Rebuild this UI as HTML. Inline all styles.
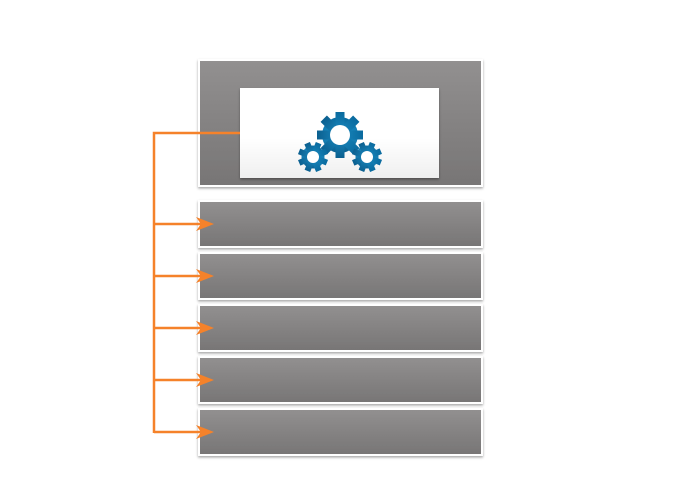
<!DOCTYPE html>
<html><head><style>html,body{margin:0;padding:0;background:#fff}</style></head>
<body>
<svg width="680" height="490" xmlns="http://www.w3.org/2000/svg">
<defs>
<linearGradient id="g" x1="0" y1="0" x2="0" y2="1"><stop offset="0" stop-color="#929090"/><stop offset="1" stop-color="#777575"/></linearGradient>
<linearGradient id="w" x1="0" y1="0" x2="0" y2="1"><stop offset="0.55" stop-color="#ffffff"/><stop offset="1" stop-color="#efefef"/></linearGradient>
<linearGradient id="b" x1="0" y1="0" x2="0" y2="1"><stop offset="0" stop-color="#0a6a9e"/><stop offset="0.5" stop-color="#1a8ac0"/><stop offset="1" stop-color="#0b5f8f"/></linearGradient>
<filter id="s" x="-5%" y="-10%" width="110%" height="125%"><feDropShadow dx="0" dy="1.5" stdDeviation="1.2" flood-color="#000" flood-opacity="0.35"/></filter>
<g id="gb"><circle r="18"/><g><rect x="-4.5" y="-23" width="9" height="46"/><rect x="-4.5" y="-23" width="9" height="46" transform="rotate(45)"/><rect x="-4.5" y="-23" width="9" height="46" transform="rotate(90)"/><rect x="-4.5" y="-23" width="9" height="46" transform="rotate(135)"/></g></g>
<g id="gs"><circle r="11.5"/><rect x="-3" y="-15" width="6" height="30"/><rect x="-3" y="-15" width="6" height="30" transform="rotate(45)"/><rect x="-3" y="-15" width="6" height="30" transform="rotate(90)"/><rect x="-3" y="-15" width="6" height="30" transform="rotate(135)"/></g>
</defs>
<g filter="url(#s)">
<rect x="199" y="60" width="283" height="126" fill="url(#g)" stroke="#fff" stroke-width="2"/>
<rect x="199" y="201" width="283" height="46" fill="url(#g)" stroke="#fff" stroke-width="2"/>
<rect x="199" y="253" width="283" height="46" fill="url(#g)" stroke="#fff" stroke-width="2"/>
<rect x="199" y="305" width="283" height="46" fill="url(#g)" stroke="#fff" stroke-width="2"/>
<rect x="199" y="357" width="283" height="46" fill="url(#g)" stroke="#fff" stroke-width="2"/>
<rect x="199" y="409" width="283" height="46" fill="url(#g)" stroke="#fff" stroke-width="2"/>
</g>
<rect x="240" y="88" width="199" height="90" fill="url(#w)" filter="url(#s)"/>
<g fill="url(#b)">
<use href="#gb" transform="translate(340,135) rotate(0)"/>
<use href="#gs" transform="translate(313,157) rotate(22)"/>
<use href="#gs" transform="translate(367,157) rotate(22)"/>
</g>
<g fill="#fff"><circle cx="340" cy="135" r="10"/><circle cx="313" cy="157" r="6"/><circle cx="367" cy="157" r="6"/></g>
<g stroke="#f5822a" stroke-width="2.5" fill="none">
<path d="M240 133 H154 V433"/>
<path d="M154 224 H206 M154 276 H206 M154 328 H206 M154 380 H206 M154 432 H206"/>
</g>
<g fill="#f5822a">
<path d="M214 224 L196 217 L201 224 L196 231Z"/>
<path d="M214 276 L196 269 L201 276 L196 283Z"/>
<path d="M214 328 L196 321 L201 328 L196 335Z"/>
<path d="M214 380 L196 373 L201 380 L196 387Z"/>
<path d="M214 432 L196 425 L201 432 L196 439Z"/>
</g>
</svg>
</body></html>
